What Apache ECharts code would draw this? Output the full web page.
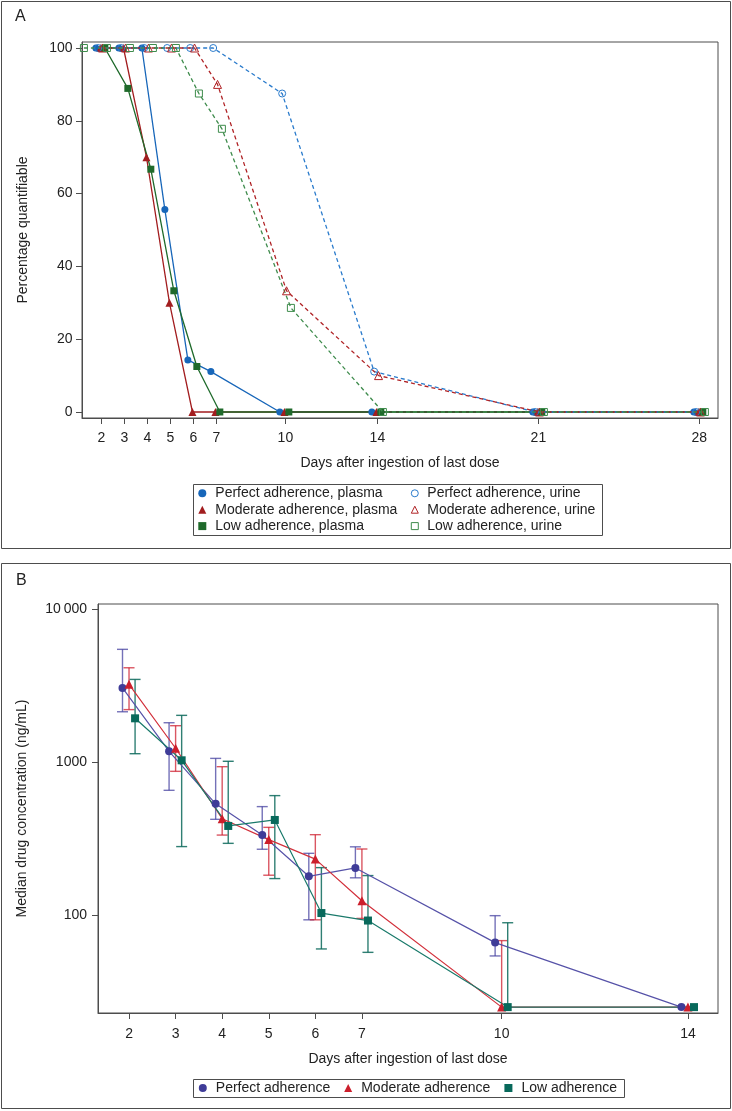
<!DOCTYPE html>
<html><head><meta charset="utf-8">
<script src="https://cdn.jsdelivr.net/npm/echarts@6/dist/echarts.min.js"></script>
<style>html,body{margin:0;padding:0;background:#fff}#c{width:732px;height:1111px}</style>
</head><body><div id="c"></div>
<script>
// ---------- Panel A data ----------
const daysA = [1, 2, 3, 4, 5, 6, 7, 10, 14, 21, 28];
const perfectPlasma  = [null, 100, 100, 100, 55.6, 14.3, 11.1, 0, 0, 0, 0];
const moderatePlasma = [null, 100, 100, 70, 30, 0, 0, 0, 0, 0, 0];
const lowPlasma      = [null, 100, 88.9, 66.7, 33.3, 12.5, 0, 0, 0, 0, 0];
const perfectUrine   = [null, 100, 100, 100, 100, 100, 100, 87.5, 11.1, 0, 0];
const moderateUrine  = [null, 100, 100, 100, 100, 100, 90, 33.3, 10, 0, 0];
const lowUrine       = [100, 100, 100, 100, 100, 87.5, 77.8, 28.6, 0, 0, 0];
const xTicksA = [2, 3, 4, 5, 6, 7, 10, 14, 21, 28];
const yTicksA = [0, 20, 40, 60, 80, 100];

// ---------- Panel B data ----------
const daysB = [2, 3, 4, 5, 6, 7, 10, 14];
const perfectMed  = [3050, 1175, 533, 333, 179, 203, 66, 25];
const perfectLo   = [2130, 653, 422, 269, 93, 175, 54, 25];
const perfectHi   = [5450, 1806, 1056, 511, 253, 279, 99, 25];
const moderateMed = [3220, 1230, 426, 311, 232, 124, 25, 25];
const moderateLo  = [2200, 869, 333, 182, 93, 95, 25, 25];
const moderateHi  = [4130, 1727, 932, 374, 335, 270, 68, 25];
const lowMed      = [1930, 1026, 382, 418, 103, 92, 25, 25];
const lowLo       = [1133, 280, 294, 173, 60, 57, 25, 25];
const lowHi       = [3466, 2018, 1011, 603, 204, 181, 89, 25];
const xTicksB = [2, 3, 4, 5, 6, 7, 10, 14];
const yTicksB = [100, 1000, 10000];

// ---------- styling ----------
const FONT = '"Liberation Sans", Arial, sans-serif';
const TXT = '#222';
const AX = '#4d4d4d';
const FS = 14;

function pairs(days, vals, off) {
  const out = [];
  days.forEach((d, i) => { if (vals[i] != null) out.push([d + off, vals[i]]); });
  return out;
}

const specA = [
  {name: 'Perfect adherence, plasma',  vals: perfectPlasma,  off: -0.24, color: '#1766b9', symbol: 'circle',   size: 7, dashed: false},
  {name: 'Moderate adherence, plasma', vals: moderatePlasma, off: -0.04, color: '#a21d1f', symbol: 'triangle', size: 8, dashed: false},
  {name: 'Low adherence, plasma',      vals: lowPlasma,      off: 0.15,  color: '#1f6a2b', symbol: 'rect',     size: 7, dashed: false},
  {name: 'Perfect adherence, urine',   vals: perfectUrine,   off: -0.14, color: '#2a7bcc', symbol: 'circle',   size: 7, dashed: true},
  {name: 'Moderate adherence, urine',  vals: moderateUrine,  off: 0.05,  color: '#b02326', symbol: 'triangle', size: 8, dashed: true},
  {name: 'Low adherence, urine',       vals: lowUrine,       off: 0.24,  color: '#3f8c4d', symbol: 'rect',     size: 7, dashed: true}
];

const specB = [
  {name: 'Perfect adherence',  med: perfectMed,  lo: perfectLo,  hi: perfectHi,  off: -0.14, color: '#3f3c98', line: '#5652a8', bar: 'rgba(70,66,160,0.75)', symbol: 'circle',   size: 8},
  {name: 'Moderate adherence', med: moderateMed, lo: moderateLo, hi: moderateHi, off: 0,     color: '#cc1f2c', line: '#d2303b', bar: 'rgba(205,30,45,0.75)', symbol: 'triangle', size: 9},
  {name: 'Low adherence',      med: lowMed,      lo: lowLo,      hi: lowHi,      off: 0.13,  color: '#08695b', line: '#1a7a6b', bar: 'rgba(10,105,90,0.85)', symbol: 'rect',     size: 8}
];

const series = [];
specA.forEach(s => {
  series.push({
    name: s.name, type: 'line', xAxisIndex: 0, yAxisIndex: 0,
    data: pairs(daysA, s.vals, s.off),
    symbol: s.symbol, symbolSize: s.size,
    itemStyle: s.dashed ? {color: 'rgba(255,255,255,0)', borderColor: s.color, borderWidth: 1} : {color: s.color},
    lineStyle: {color: s.color, width: 1.3, type: s.dashed ? [4, 3] : 'solid'},
    emphasis: {disabled: true}, z: s.dashed ? 3 : 2
  });
});

specB.forEach((s, k) => {
  const eb = daysB.map((d, i) => [d + s.off, s.lo[i], s.hi[i], s.med[i]]);
  series.push({
    name: 'eb' + k, type: 'custom', xAxisIndex: 1, yAxisIndex: 1, z: 1,
    data: eb, encode: {x: 0, y: [1, 2]},
    renderItem: function (params, api) {
      const x = api.value(0), lo = api.value(1), hi = api.value(2), med = api.value(3);
      const pl = api.coord([x, lo]), ph = api.coord([x, hi]);
      const w = 5.5;
      const st = {stroke: s.bar, lineWidth: 1.4};
      const ch = [];
      if (hi > lo) ch.push({type: 'line', shape: {x1: pl[0], y1: pl[1], x2: ph[0], y2: ph[1]}, style: st});
      if (hi > med) ch.push({type: 'line', shape: {x1: ph[0] - w, y1: ph[1], x2: ph[0] + w, y2: ph[1]}, style: st});
      if (lo < med) ch.push({type: 'line', shape: {x1: pl[0] - w, y1: pl[1], x2: pl[0] + w, y2: pl[1]}, style: st});
      return {type: 'group', children: ch};
    }
  });
});
specB.forEach(s => {
  series.push({
    name: s.name, type: 'line', xAxisIndex: 1, yAxisIndex: 1, z: 2,
    data: pairs(daysB, s.med, s.off),
    symbol: s.symbol, symbolSize: s.size,
    itemStyle: {color: s.color},
    lineStyle: {color: s.line, width: 1.2},
    emphasis: {disabled: true}
  });
});

const axisText = {fontSize: FS, color: TXT, fontFamily: FONT};
const legText = {fontSize: FS, color: TXT, fontFamily: FONT, lineHeight: 16, padding: [0, 0, 0, 4]};

const option = {
  animation: false,
  backgroundColor: '#fff',
  textStyle: {fontFamily: FONT},
  grid: [
    {left: 82, top: 42, width: 636, height: 376, show: true, borderColor: AX, borderWidth: 1, backgroundColor: 'transparent'},
    {left: 98, top: 604, width: 620, height: 409, show: true, borderColor: AX, borderWidth: 1, backgroundColor: 'transparent'}
  ],
  xAxis: [
    {type: 'value', gridIndex: 0, min: 1.157, max: 28.81,
     axisLine: {show: true, onZero: false, lineStyle: {color: AX}},
     axisTick: {show: true, customValues: xTicksA, length: 6, lineStyle: {color: AX}},
     axisLabel: Object.assign({customValues: xTicksA, margin: 13}, axisText),
     splitLine: {show: false},
     name: 'Days after ingestion of last dose', nameLocation: 'middle', nameGap: 38, nameTextStyle: axisText},
    {type: 'value', gridIndex: 1, min: 1.334, max: 14.645,
     axisLine: {show: true, onZero: false, lineStyle: {color: AX}},
     axisTick: {show: true, customValues: xTicksB, length: 6, lineStyle: {color: AX}},
     axisLabel: Object.assign({customValues: xTicksB, margin: 14}, axisText),
     splitLine: {show: false},
     name: 'Days after ingestion of last dose', nameLocation: 'middle', nameGap: 39, nameTextStyle: axisText}
  ],
  yAxis: [
    {type: 'value', gridIndex: 0, min: -1.65, max: 101.65,
     axisLine: {show: true, onZero: false, lineStyle: {color: AX}},
     axisTick: {show: true, customValues: yTicksA, length: 6, lineStyle: {color: AX}},
     axisLabel: Object.assign({customValues: yTicksA, margin: 9.5}, axisText),
     splitLine: {show: false},
     name: 'Percentage quantifiable', nameLocation: 'middle', nameGap: 52, nameTextStyle: axisText},
    {type: 'log', gridIndex: 1, min: 22.88, max: 10783,
     axisLine: {show: true, onZero: false, lineStyle: {color: AX}},
     axisTick: {show: true, customValues: yTicksB, length: 6, lineStyle: {color: AX}},
     axisLabel: Object.assign({customValues: yTicksB, margin: 11,
       formatter: v => (Math.round(v) === 10000 ? '10\u2009000' : String(Math.round(v)))}, axisText),
     splitLine: {show: false}, minorTick: {show: false},
     name: 'Median drug concentration (ng/mL)', nameLocation: 'middle', nameGap: 69, nameTextStyle: axisText}
  ],
  legend: [
    {orient: 'vertical', left: 198.3, top: 485.3, padding: 0, itemGap: 0.4, itemWidth: 8, itemHeight: 8,
     textStyle: legText, selectedMode: false,
     data: [
       {name: specA[0].name, icon: 'circle', itemStyle: {color: specA[0].color}},
       {name: specA[1].name, icon: 'triangle', itemStyle: {color: specA[1].color}},
       {name: specA[2].name, icon: 'rect', itemStyle: {color: specA[2].color}}
     ]},
    {orient: 'vertical', left: 410.8, top: 485.3, padding: 0, itemGap: 0.4, itemWidth: 7, itemHeight: 7,
     textStyle: legText, selectedMode: false,
     data: [
       {name: specA[3].name, icon: 'circle', itemStyle: {color: '#fff', borderColor: specA[3].color, borderWidth: 1}},
       {name: specA[4].name, icon: 'triangle', itemStyle: {color: '#fff', borderColor: specA[4].color, borderWidth: 1}},
       {name: specA[5].name, icon: 'rect', itemStyle: {color: '#fff', borderColor: specA[5].color, borderWidth: 1}}
     ]},
    {orient: 'horizontal', left: 198.8, top: 1080, padding: 0, itemGap: 14, itemWidth: 8, itemHeight: 8,
     textStyle: legText, selectedMode: false,
     data: [
       {name: specB[0].name, icon: 'circle', itemStyle: {color: specB[0].color}},
       {name: specB[1].name, icon: 'triangle', itemStyle: {color: specB[1].color}},
       {name: specB[2].name, icon: 'rect', itemStyle: {color: specB[2].color}}
     ]}
  ],
  graphic: [
    {type: 'rect', shape: {x: 1.5, y: 1.5, width: 729, height: 547}, style: {fill: 'none', stroke: AX, lineWidth: 1}, silent: true},
    {type: 'rect', shape: {x: 1.5, y: 563.5, width: 729, height: 545}, style: {fill: 'none', stroke: AX, lineWidth: 1}, silent: true},
    {type: 'rect', shape: {x: 193.5, y: 484.5, width: 409, height: 51}, style: {fill: 'none', stroke: AX, lineWidth: 1}, silent: true},
    {type: 'rect', shape: {x: 193.5, y: 1079.5, width: 431, height: 18}, style: {fill: 'none', stroke: AX, lineWidth: 1}, silent: true},
    {type: 'text', left: 15, top: 9, style: {text: 'A', fontSize: 16, fill: TXT, fontFamily: FONT}, silent: true},
    {type: 'text', left: 16, top: 573, style: {text: 'B', fontSize: 16, fill: TXT, fontFamily: FONT}, silent: true}
  ],
  series: series
};

const chart = echarts.init(document.getElementById('c'), null, {renderer: 'canvas', width: 732, height: 1111});
chart.setOption(option);
</script>
</body></html>
